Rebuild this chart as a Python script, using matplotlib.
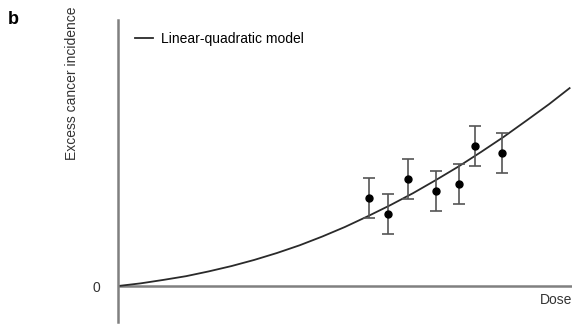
import numpy as np
import matplotlib
matplotlib.use("Agg")
import matplotlib.pyplot as plt

plt.rcParams['font.family'] = ['Liberation Sans', 'DejaVu Sans']

# --- modello lineare-quadratico ---
dose_curve = [0, 0.5, 1.0, 1.5, 2.0, 2.5, 3.0, 3.5, 4.0, 4.5, 5.0,
              5.5, 6.0, 6.5, 7.0, 7.5, 8.0, 8.5, 9.0, 9.5, 9.95]
inc_curve = [0, 0.10, 0.23, 0.37, 0.55, 0.75, 0.98, 1.24, 1.53, 1.86, 2.22,
             2.62, 3.04, 3.49, 3.98, 4.49, 5.04, 5.61, 6.22, 6.84, 7.44]

# --- osservazioni con barre d'errore ---
dose_obs = [5.53, 5.95, 6.39, 7.00, 7.51, 7.86, 8.46]
inc_obs = [3.31, 2.71, 4.02, 3.57, 3.83, 5.26, 5.00]
err_obs = [0.75, 0.75, 0.75, 0.75, 0.75, 0.75, 0.75]

fig = plt.figure(figsize=(5.8, 3.25), dpi=100)
ax = fig.add_axes([0.2034, 0.0092, 0.7826, 0.9292])

ax.plot(dose_curve, inc_curve, color='#2a2a2a', lw=1.3,
        label='Linear-quadratic model')
ax.errorbar(dose_obs, inc_obs, yerr=err_obs, fmt='o', color='black',
            ms=5, ecolor='#555555', elinewidth=1.2, capsize=4,
            capthick=1.2)

# assi
ax.set_xlim(0, 10)
ax.set_ylim(-1.353, 10)
for s in ['top', 'right', 'bottom']:
    ax.spines[s].set_visible(False)
ax.spines['left'].set_color('#808080')
ax.spines['left'].set_linewidth(1.8)
ax.axhline(0, color='#808080', lw=1.8, zorder=1)

ax.set_xticks([])
ax.set_yticks([0])
ax.set_yticklabels(['0'])
ax.tick_params(axis='y', length=0, pad=13, labelsize=10, colors='#333333')

ax.set_ylabel('Excess cancer incidence', fontsize=10, color='#333333')
ax.yaxis.set_label_coords(-0.086, 0.79)
ax.text(10, -0.25, 'Dose', ha='right', va='top', fontsize=10,
        color='#333333')

ax.legend(loc='upper left', bbox_to_anchor=(0.01, 1.003), frameon=False,
          fontsize=10, handlelength=1.3, handletextpad=0.6)

fig.text(0.014, 0.94, 'b', fontsize=13, fontweight='bold', va='center')

plt.savefig('out.png', dpi=100)
